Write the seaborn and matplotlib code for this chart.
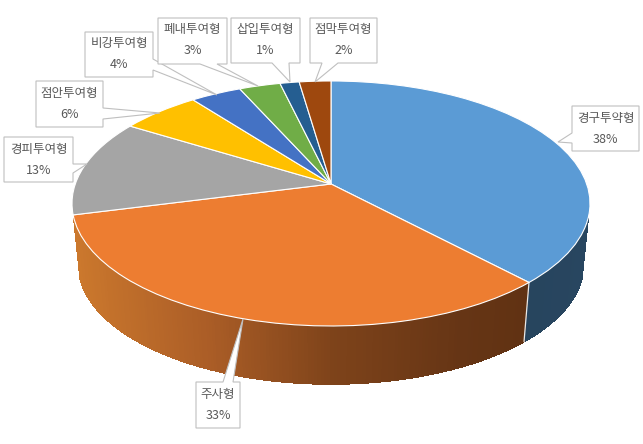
import matplotlib
matplotlib.use("Agg")
import matplotlib.pyplot as plt
import matplotlib.transforms as mtransforms
from matplotlib.collections import PolyCollection
from matplotlib.patches import Polygon
import numpy as np
import seaborn as sns

# 데이터
routes = ['경구투약형', '주사형', '경피투여형', '점안투여형', '비강투여형', '폐내투여형', '삽입투여형', '점막투여형']
shares = [38.0, 33.0, 12.8, 5.8, 3.7, 3.0, 1.4, 2.3]
top_colors = ['#5B9BD5', '#ED7D31', '#A5A5A5', '#FFC000', '#4472C4', '#70AD47', '#255E91', '#9E480E']
orange_wall = ['#CB782D', '#AC5E27', '#7E431A', '#663515', '#5C2F10']
blue_wall = ['#21394F', '#284660']

# 라벨 상자: (x0, y0, x1, y1), 꼬리 방향, 꼬리 시작 두 점, 꼬리 끝 (픽셀 좌표)
callouts = [
    ((572, 106, 639, 151), 'left', (133, 143), (558, 142)),
    ((196, 382, 240, 428), 'top', (223, 233), (243, 319)),
    ((4, 137, 73, 182), 'right', (164, 173), (87, 164)),
    ((36, 81, 103, 127), 'right', (108, 119), (160, 113)),
    ((85, 32, 153, 77), 'right', (59, 70), (217, 95)),
    ((158, 18, 227, 64), 'bottom', (200, 217), (258, 86)),
    ((231, 18, 300, 63), 'bottom', (272, 289), (290, 82)),
    ((310, 18, 377, 63), 'bottom', (322, 338), (315, 82)),
]

# 원근 투영 값
CX, CY = 331, 184
RX, RY = 255.7, 119.4
PERSP = 0.159
DEPTH = 61.5
FAR_SCALE = 0.975
WALL_START = 16  # 옆면이 시작되는 각도


class PerspectiveDisc(mtransforms.Transform):
    """단위 원을 기울어진 원판의 픽셀 좌표로 옮긴다"""
    input_dims = output_dims = 2

    def __init__(self, scale=1.0, drop=0.0):
        super().__init__()
        self.scale = scale
        self.drop = drop

    def transform_non_affine(self, values):
        values = np.asarray(values, dtype=float)
        w = 1 + PERSP * values[:, 1]
        x = CX + self.scale * RX * values[:, 0] / w
        y = CY + self.drop - self.scale * RY * values[:, 1] / w
        return np.column_stack([x, y])


def callout_vertices(box, side, base, tip):
    x0, y0, x1, y1 = box
    if side == 'left':
        return [(x0, y0), (x1, y0), (x1, y1), (x0, y1), (x0, base[1]), tip, (x0, base[0])]
    if side == 'right':
        return [(x0, y0), (x1, y0), (x1, base[0]), tip, (x1, base[1]), (x1, y1), (x0, y1)]
    if side == 'top':
        return [(x0, y0), (base[0], y0), tip, (base[1], y0), (x1, y0), (x1, y1), (x0, y1)]
    return [(x0, y0), (x1, y0), (x1, y1), (base[1], y1), tip, (base[0], y1), (x0, y1)]


def draw_walls(ax, edge_angle):
    # 앞쪽 옆면: 세로 띠로 나누어 그라데이션 표현
    angles = np.linspace(-WALL_START, -180 + WALL_START, 240)
    near, far = PerspectiveDisc(), PerspectiveDisc(FAR_SCALE, DEPTH)
    orange = sns.blend_palette(orange_wall, n_colors=256)
    blue = sns.blend_palette(blue_wall, n_colors=256)

    polys, colors = [], []
    for a, b in zip(angles[:-1], angles[1:]):
        pair = np.radians([a, b])
        unit = np.column_stack([np.cos(pair), np.sin(pair)])
        top, bottom = near.transform(unit), far.transform(unit)
        polys.append([top[0], top[1], bottom[1], bottom[0]])
        t = (top[:, 0].mean() - (CX - 259)) / 518
        mid = (a + b) / 2
        palette = blue if mid > edge_angle else orange
        colors.append(palette[int(np.clip(t, 0, 1) * 255)])
    ax.add_collection(PolyCollection(polys, facecolors=colors, edgecolors=colors, linewidths=0.6,
                                     antialiaseds=False, zorder=1))

    # 파랑/주황 옆면 경계선
    rad = np.radians(edge_angle)
    unit = np.array([[np.cos(rad), np.sin(rad)]])
    a, b = near.transform(unit)[0], far.transform(unit)[0]
    ax.plot([a[0], b[0]], [a[1], b[1]], color='#E8E8E8', lw=0.9, zorder=2)


sns.set_theme(style='white')
plt.rcParams['font.family'] = ['Noto Sans CJK KR', 'DejaVu Sans']

fig = plt.figure(figsize=(6.43, 4.44), dpi=100, facecolor='white')
ax = fig.add_axes([0, 0, 1, 1])

wedges, _ = ax.pie(
    shares, colors=top_colors, startangle=90, counterclock=False,
    wedgeprops={'edgecolor': 'white', 'linewidth': 0.8, 'zorder': 3},
)
disc = PerspectiveDisc()
for wedge in wedges:
    wedge.set_transform(disc + ax.transData)

ax.set_aspect('auto')
ax.set_xlim(0, 643)
ax.set_ylim(444, 0)
ax.axis('off')

draw_walls(ax, 90 - 360 * shares[0] / sum(shares))

for name, share, (box, side, base, tip) in zip(routes, shares, callouts):
    ax.add_patch(Polygon(callout_vertices(box, side, base, tip), closed=True, facecolor='white',
                         edgecolor='#BFBFBF', linewidth=0.8, zorder=4))
    mid = (box[0] + box[2]) / 2
    ax.text(mid, box[1] + 12, name, ha='center', va='center', fontsize=9, color='#595959', zorder=5)
    ax.text(mid, box[1] + 33, f"{round(share)}%", ha='center', va='center', fontsize=9, color='#595959', zorder=5)

fig.savefig('out.png', dpi=100)
